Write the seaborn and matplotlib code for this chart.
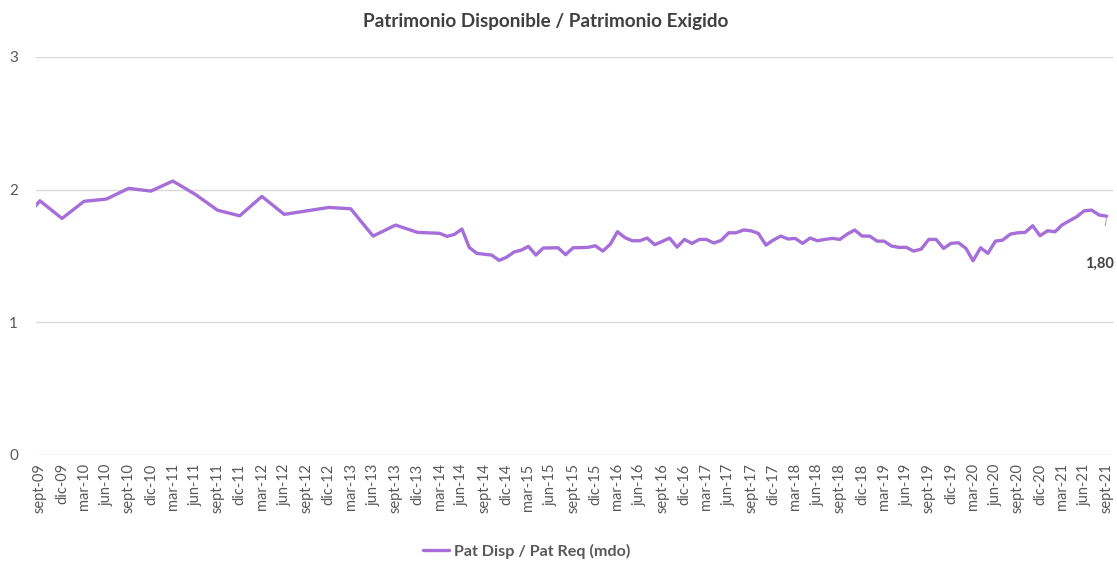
import matplotlib
matplotlib.use("Agg")
import matplotlib.pyplot as plt
import seaborn as sns
import pandas as pd

# ---- data ----
fechas = [
    "2009-08", "2009-09", "2009-12", "2010-03", "2010-06", "2010-09", "2010-12",
    "2011-03", "2011-06", "2011-09", "2011-12", "2012-03", "2012-06", "2012-12",
    "2013-03", "2013-06", "2013-09", "2013-12", "2014-03", "2014-04", "2014-05",
    "2014-06", "2014-07", "2014-08", "2014-09", "2014-10", "2014-11", "2014-12",
    "2015-01", "2015-02", "2015-03", "2015-04", "2015-05", "2015-06", "2015-07",
    "2015-08", "2015-09", "2015-10", "2015-11", "2015-12", "2016-01", "2016-02",
    "2016-03", "2016-04", "2016-05", "2016-06", "2016-07", "2016-08", "2016-09",
    "2016-10", "2016-11", "2016-12", "2017-01", "2017-02", "2017-03", "2017-04",
    "2017-05", "2017-06", "2017-07", "2017-08", "2017-09", "2017-10", "2017-11",
    "2017-12", "2018-01", "2018-02", "2018-03", "2018-04", "2018-05", "2018-06",
    "2018-07", "2018-08", "2018-09", "2018-10", "2018-11", "2018-12", "2019-01",
    "2019-02", "2019-03", "2019-04", "2019-05", "2019-06", "2019-07", "2019-08",
    "2019-09", "2019-10", "2019-11", "2019-12", "2020-01", "2020-02", "2020-03",
    "2020-04", "2020-05", "2020-06", "2020-07", "2020-08", "2020-09", "2020-10",
    "2020-11", "2020-12", "2021-01", "2021-02", "2021-03", "2021-04", "2021-05",
    "2021-06", "2021-07", "2021-08", "2021-09",
]
valores = [
    1.85, 1.916, 1.783, 1.912, 1.929, 2.010, 1.989,
    2.065, 1.965, 1.845, 1.803, 1.949, 1.814, 1.866,
    1.856, 1.650, 1.733, 1.678, 1.671, 1.648, 1.663,
    1.703, 1.565, 1.520, 1.513, 1.507, 1.467, 1.490,
    1.530, 1.545, 1.573, 1.507, 1.560, 1.561, 1.562,
    1.510, 1.562, 1.563, 1.565, 1.577, 1.537, 1.590,
    1.683, 1.638, 1.615, 1.615, 1.635, 1.585, 1.610,
    1.635, 1.567, 1.625, 1.595, 1.625, 1.625, 1.598,
    1.618, 1.675, 1.675, 1.696, 1.690, 1.670, 1.582,
    1.620, 1.650, 1.628, 1.633, 1.595, 1.635, 1.615,
    1.625, 1.633, 1.625, 1.665, 1.696, 1.650, 1.650,
    1.612, 1.612, 1.575, 1.565, 1.565, 1.537, 1.552,
    1.625, 1.625, 1.557, 1.595, 1.600, 1.557, 1.464,
    1.562, 1.520, 1.612, 1.620, 1.665, 1.675, 1.678,
    1.728, 1.653, 1.690, 1.683, 1.733, 1.766, 1.796,
    1.841, 1.846, 1.809, 1.800,
]
tick_labels = [
    "sept-09", "dic-09", "mar-10", "jun-10", "sept-10", "dic-10", "mar-11",
    "jun-11", "sept-11", "dic-11", "mar-12", "jun-12", "sept-12", "dic-12",
    "mar-13", "jun-13", "sept-13", "dic-13", "mar-14", "jun-14", "sept-14",
    "dic-14", "mar-15", "jun-15", "sept-15", "dic-15", "mar-16", "jun-16",
    "sept-16", "dic-16", "mar-17", "jun-17", "sept-17", "dic-17", "mar-18",
    "jun-18", "sept-18", "dic-18", "mar-19", "jun-19", "sept-19", "dic-19",
    "mar-20", "jun-20", "sept-20", "dic-20", "mar-21", "jun-21", "sept-21",
]
y_ticks = [0, 1, 2, 3]
serie = "Pat Disp / Pat Req (mdo)"
titulo = "Patrimonio Disponible / Patrimonio Exigido"
ultimo_label = "1,80"

# ---- style ----
sns.set_style("white")
plt.rcParams['font.family'] = ['Lato', 'DejaVu Sans']
color_line = "#a66ed8"
txt = "#595959"

df = pd.DataFrame({"fecha": pd.to_datetime(fechas), "valor": valores})

W, H = 1117, 563
fig = plt.figure(figsize=(W / 100, H / 100), dpi=100)
ax = fig.add_axes([36 / W, 1 - 455 / H, (1113 - 36) / W, (455 - 57) / H])

sns.lineplot(data=df, x="fecha", y="valor", color=color_line, linewidth=2.4,
             ax=ax, label=serie)

ax.set_ylim(0, 3)
ax.set_yticks(y_ticks)
ax.set_yticklabels([str(v) for v in y_ticks])
ax.yaxis.grid(True, color="#d9d9d9", linewidth=1)
ax.xaxis.grid(False)
for s in ax.spines.values():
    s.set_visible(False)

tick_dates = pd.date_range("2009-09-01", "2021-09-01", freq="3MS")
ax.set_xticks(tick_dates)
ax.set_xticklabels(tick_labels, rotation=90, fontsize=10.5, color=txt)
ax.set_xlim(pd.Timestamp("2009-08-16"), pd.Timestamp("2021-09-27"))
ax.tick_params(axis="x", length=0, pad=6)
ax.tick_params(axis="y", length=0, pad=13, labelsize=11, labelcolor=txt)
ax.set_xlabel("")
ax.set_ylabel("")

# last value label
ax.annotate(ultimo_label, xy=(df["fecha"].iloc[-1], df["valor"].iloc[-1]),
            xytext=(-5, -34), textcoords="offset points", ha="center", va="center",
            fontsize=10.5, fontweight="bold", color="#404040",
            arrowprops=dict(arrowstyle="-", color="#a6a6a6", lw=0.8,
                            shrinkA=20, shrinkB=1))

fig.text(546 / W, 1 - 22 / H, titulo, ha="center", va="center", fontsize=13.6,
         fontweight="bold", color="#404040")

handles, labels = ax.get_legend_handles_labels()
ax.legend_.remove()
leg = fig.legend(handles, labels, loc="center", bbox_to_anchor=(526.5 / W, 1 - 551 / H),
                 frameon=False, handlelength=1.6, handletextpad=0.3,
                 prop={"weight": "bold", "size": 11.6})
for t in leg.get_texts():
    t.set_color(txt)

fig.savefig("out.png", dpi=100)
